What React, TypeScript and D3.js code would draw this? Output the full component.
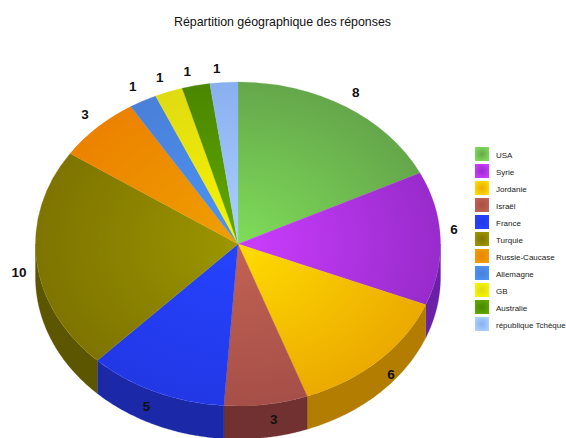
import React from "react";
import * as d3 from "d3";

const categories = ["USA", "Syrie", "Jordanie", "Israël", "France", "Turquie", "Russie-Caucase", "Allemagne", "GB", "Australie", "république Tchèque"];
const values = [8, 6, 6, 3, 5, 10, 3, 1, 1, 1, 1];
const innerColors = ["#7fdd59", "#cc3dff", "#ffdc00", "#c26253", "#2543ff", "#9c9600", "#efa000", "#4a94f6", "#f8f500", "#62aa00", "#aad2ff"];
const outerColors = ["#65a74b", "#982bcb", "#ecaa00", "#a64f48", "#2238e6", "#7e7400", "#ec8200", "#4a80d8", "#dfdb12", "#4a8600", "#8aaff0"];
const wallColors = ["#65a74b", "#6b20a8", "#b27d00", "#713131", "#1b28a8", "#5c5600", "#ec8200", "#4a80d8", "#dfdb12", "#4a8600", "#8aaff0"];
const labelNudge: [number, number][] = [[1, -3], [-4, -9], [0, 3], [5, 1], [-2, 1], [0, 10], [0, -3], [-2, -2], [-3, -1], [-5, -1], [-6, 0]];

const W = 566, H = 438;
const cx = 238, cy = 244, rx = 202.5, ry = 162, depth = 33;
const labelK = 1.087;

const pieGen = d3.pie<number>().sort(null).value((d) => d);
const arcs = pieGen(values);
const arcGen = d3.arc<d3.PieArcDatum<number>>().innerRadius(0).outerRadius(rx);
const px = (a: number) => cx + rx * Math.sin(a);
const py = (a: number) => cy - ry * Math.cos(a);
const rimLine = d3.line<[number, number]>();

function wallPath(a0: number, a1: number) {
  const s = Math.max(a0, Math.PI / 2);
  const e = Math.min(a1, (3 * Math.PI) / 2);
  if (e <= s) return null;
  const angles = d3.range(0, 61).map((i) => s + ((e - s) * i) / 60);
  const top = angles.map((a) => [px(a), py(a)] as [number, number]);
  const bottom = angles.slice().reverse().map((a) => [px(a), py(a) + depth] as [number, number]);
  return rimLine([...top, ...bottom]) + "Z";
}

const legendY = d3.scalePoint<string>().domain(categories).range([154, 324]);

export default function App() {
  return (
    <svg width={W} height={H} viewBox={`0 0 ${W} ${H}`} style={{ position: "absolute", left: 0, top: 0, background: "#fff" }} fontFamily="'Liberation Sans', Arial, sans-serif">
      <defs>
        {categories.map((_, i) => (
          <React.Fragment key={i}>
            <radialGradient id={`top${i}`} gradientUnits="userSpaceOnUse" cx={0} cy={0} r={rx}>
              <stop offset="0" stopColor={innerColors[i]} />
              <stop offset="1" stopColor={outerColors[i]} />
            </radialGradient>
            <radialGradient id={`sw${i}`} cx="0.5" cy="0.5" r="0.6">
              <stop offset="0" stopColor={outerColors[i]} />
              <stop offset="1" stopColor={innerColors[i]} />
            </radialGradient>
          </React.Fragment>
        ))}
      </defs>
      <text x={282.5} y={26} textAnchor="middle" fontSize={12.4} fill="#111">Répartition géographique des réponses</text>

      <g>
        {arcs.map((a, i) => {
          const d = wallPath(a.startAngle, a.endAngle);
          return d ? <path key={i} d={d} fill={wallColors[i]} stroke={wallColors[i]} strokeWidth={0.3} /> : null;
        })}
      </g>
      <g transform={`translate(${cx},${cy}) scale(1,${ry / rx})`}>
        {arcs.map((a, i) => (
          <path key={i} d={arcGen(a) ?? ""} fill={`url(#top${i})`} stroke={`url(#top${i})`} strokeWidth={0.3} />
        ))}
      </g>
      <g fontSize={13.5} fontWeight="bold" fill="#111" textAnchor="middle">
        {arcs.map((a, i) => {
          const m = (a.startAngle + a.endAngle) / 2;
          const x = cx + labelK * rx * Math.sin(m) + labelNudge[i][0];
          const y = cy - labelK * ry * Math.cos(m) + labelNudge[i][1];
          return <text key={i} x={x} y={y} dy="0.36em">{values[i]}</text>;
        })}
      </g>
      <g>
        {categories.map((c, i) => (
          <g key={c} transform={`translate(475,${legendY(c)})`}>
            <rect x={0} y={-7} width={14} height={14} fill={`url(#sw${i})`} />
            <text x={21} y={0.7} dy="0.36em" fontSize={8} fill="#222">{c}</text>
          </g>
        ))}
      </g>
    </svg>
  );
}
